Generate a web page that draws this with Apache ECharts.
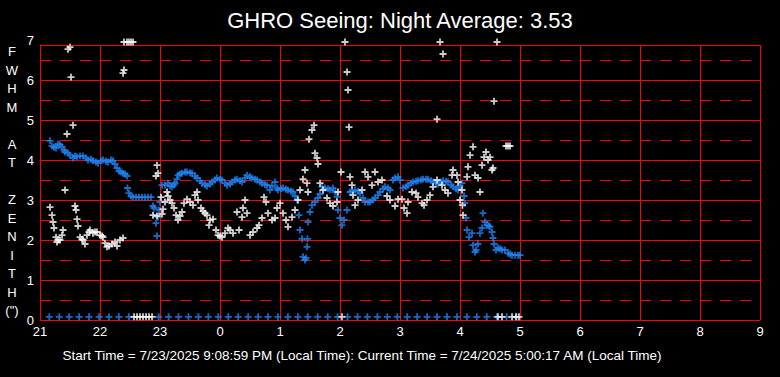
<!DOCTYPE html>
<html><head><meta charset="utf-8">
<script src="https://cdn.jsdelivr.net/npm/echarts@6/dist/echarts.min.js"></script>
<style>html,body{margin:0;padding:0;background:#000}#c{width:780px;height:377px}</style>
</head><body><div id="c"></div>
<script>
const titleText = 'GHRO Seeing: Night Average: 3.53';
const footerText = 'Start Time = 7/23/2025 9:08:59 PM (Local Time): Current Time = 7/24/2025 5:00:17 AM (Local Time)';
const yAxisTitleLetters = ['F','W','H','M','','A','T','','Z','E','N','I','T','H','(")'];
const hourTickLabels = ['21','22','23','0','1','2','3','4','5','6','7','8','9'];
const yTickLabels = ['0','1','2','3','4','5','6','7'];

// [hour since 21:00 continuing past midnight (24 = 0:00), FWHM]
const bluePoints = [
[21.167,4.48],[21.2,4.35],[21.233,4.32],[21.267,4.3],[21.3,4.4],[21.333,4.38],[21.367,4.33],[21.4,4.25],
[21.417,4.2],[21.467,4.17],[21.5,4.12],[21.55,4.05],[21.583,4.1],[21.617,4.08],[21.667,4.1],[21.717,4.1],
[21.767,4.05],[21.8,4.0],[21.85,4.02],[21.883,3.98],[21.933,3.95],[21.967,3.92],[22.017,3.98],[22.05,4.0],
[22.1,3.97],[22.133,3.95],[22.183,4.0],[22.217,3.98],[22.25,3.9],[22.283,3.8],[22.317,3.72],[22.35,3.7],
[22.383,3.67],[22.417,3.65],[22.45,3.6],[22.458,3.3],[22.483,3.17],[22.517,3.1],[22.55,3.07],[22.6,3.07],
[22.65,3.07],[22.7,3.07],[22.75,3.07],[22.8,3.07],[22.85,3.07],[22.883,2.85],[22.9,2.8],[22.933,2.42],
[22.95,2.1],[22.967,2.57],[22.983,2.75],[23.0,2.95],[23.033,3.37],[23.083,3.37],[23.133,3.42],[23.167,3.35],
[23.2,3.33],[23.233,3.38],[23.25,3.42],[23.283,3.52],[23.3,3.62],[23.333,3.65],[23.367,3.67],[23.417,3.7],
[23.45,3.7],[23.5,3.68],[23.533,3.67],[23.583,3.6],[23.617,3.55],[23.667,3.48],[23.7,3.42],[23.75,3.38],
[23.783,3.35],[23.833,3.4],[23.867,3.45],[23.917,3.5],[23.95,3.55],[24.0,3.52],[24.033,3.5],[24.083,3.42],
[24.117,3.37],[24.167,3.4],[24.2,3.45],[24.25,3.5],[24.283,3.52],[24.333,3.48],[24.367,3.45],[24.417,3.55],
[24.45,3.62],[24.5,3.58],[24.533,3.55],[24.583,3.52],[24.617,3.5],[24.667,3.45],[24.7,3.42],[24.75,3.38],
[24.783,3.37],[24.833,3.25],[24.867,3.35],[24.917,3.45],[24.95,3.3],[24.967,3.25],[25.017,3.28],[25.05,3.3],
[25.1,3.27],[25.133,3.25],[25.183,3.22],[25.217,3.2],[25.25,3.1],[25.283,3.0],[25.317,2.62],[25.333,2.25],
[25.367,2.03],[25.383,1.58],[25.417,1.5],[25.433,1.55],[25.45,1.83],[25.458,2.03],[25.467,2.45],[25.5,2.7],
[25.533,2.87],[25.583,2.95],[25.633,3.05],[25.667,3.15],[25.7,3.33],[25.75,3.3],[25.8,3.28],[25.833,3.25],
[25.883,3.3],[25.917,3.2],[25.95,3.08],[25.967,2.75],[26.0,2.55],[26.033,2.37],[26.067,2.5],[26.117,2.75],
[26.167,3.2],[26.2,3.22],[26.25,3.25],[26.3,3.22],[26.333,3.17],[26.383,3.05],[26.417,2.95],[26.467,2.95],
[26.5,2.95],[26.55,3.0],[26.583,3.05],[26.633,3.12],[26.667,3.2],[26.717,3.28],[26.75,3.33],[26.8,3.3],
[26.833,3.25],[26.883,3.5],[26.917,3.55],[26.967,3.58],[27.0,3.5],[27.05,3.3],[27.1,3.33],[27.133,3.37],
[27.183,3.42],[27.217,3.45],[27.267,3.47],[27.3,3.48],[27.35,3.5],[27.383,3.52],[27.433,3.52],[27.467,3.52],
[27.517,3.48],[27.55,3.45],[27.6,3.42],[27.633,3.4],[27.683,3.45],[27.717,3.48],[27.767,3.47],[27.8,3.45],
[27.85,3.38],[27.883,3.33],[27.933,3.28],[27.967,3.25],[28.0,3.35],[28.033,3.42],[28.067,3.1],[28.083,2.92],
[28.1,2.55],[28.117,2.25],[28.15,2.07],[28.2,2.17],[28.217,1.87],[28.25,1.7],[28.267,1.75],[28.3,1.9],
[28.333,2.17],[28.367,2.3],[28.383,2.67],[28.417,2.45],[28.45,2.37],[28.483,2.35],[28.5,2.33],[28.533,2.2],
[28.55,2.05],[28.567,1.9],[28.6,1.75],[28.633,1.8],[28.667,1.78],[28.7,1.75],[28.75,1.75],[28.8,1.67],
[28.833,1.65],[28.867,1.62],[28.917,1.62],[28.967,1.62],[29.0,1.62]
];

const blueBaseline = [
[21.155,0.08],[21.321,0.08],[21.486,0.08],[21.652,0.08],[21.818,0.08],[21.984,0.08],[22.149,0.08],[22.315,0.08],
[22.481,0.08],[22.978,0.08],[23.143,0.08],[23.309,0.08],[23.475,0.08],[23.641,0.08],[23.806,0.08],[23.972,0.08],
[24.138,0.08],[24.303,0.08],[24.469,0.08],[24.635,0.08],[24.8,0.08],[24.966,0.08],[25.132,0.08],[25.298,0.08],
[25.463,0.08],[25.629,0.08],[25.795,0.08],[25.96,0.08],[26.126,0.08],[26.292,0.08],[26.457,0.08],[26.623,0.08],
[26.789,0.08],[26.955,0.08],[27.12,0.08],[27.286,0.08],[27.452,0.08],[27.617,0.08],[27.783,0.08],[27.949,0.08],
[28.114,0.08],[28.28,0.08],[28.446,0.08],[28.612,0.08],[28.777,0.08],[28.943,0.08]
];

const whitePoints = [
[21.167,2.82],[21.2,2.62],[21.217,2.45],[21.233,2.3],[21.267,2.07],[21.283,1.95],[21.3,2.0],[21.333,2.0],
[21.367,2.12],[21.383,2.25],[21.417,3.25],[21.45,4.65],[21.467,6.77],[21.5,6.82],[21.517,6.07],[21.55,4.87],
[21.583,2.85],[21.6,2.75],[21.617,2.52],[21.633,2.35],[21.667,2.07],[21.7,2.02],[21.717,2.0],[21.75,1.9],
[21.783,2.12],[21.817,2.2],[21.833,2.25],[21.883,2.17],[21.917,2.2],[21.95,2.2],[22.0,2.12],[22.033,2.1],
[22.05,2.07],[22.083,1.92],[22.117,1.83],[22.15,1.85],[22.2,1.9],[22.25,1.95],[22.283,1.85],[22.333,2.0],
[22.383,2.05],[22.383,6.17],[22.4,6.25],[22.4,6.95],[22.45,6.95],[22.483,6.95],[22.517,6.95],[22.55,6.95],
[22.567,0.08],[22.617,0.08],[22.667,0.08],[22.717,0.08],[22.767,0.08],[22.817,0.08],[22.867,0.08],
[22.883,2.62],[22.933,3.6],[22.95,3.87],[22.95,2.6],[22.967,3.67],[23.017,3.07],[23.033,2.65],[23.05,2.77],
[23.083,2.95],[23.117,3.2],[23.133,3.1],[23.167,3.0],[23.2,2.92],[23.233,2.8],[23.267,2.62],[23.3,2.5],
[23.333,2.6],[23.367,2.7],[23.4,2.92],[23.45,3.02],[23.5,2.95],[23.55,2.87],[23.583,3.12],[23.617,3.2],
[23.633,3.0],[23.683,2.8],[23.717,2.72],[23.75,2.67],[23.783,2.62],[23.817,2.37],[23.833,2.5],[23.883,2.52],
[23.933,2.25],[23.967,2.12],[24.0,2.1],[24.033,2.07],[24.083,2.17],[24.133,2.3],[24.167,2.25],[24.217,2.17],
[24.283,2.7],[24.317,2.25],[24.367,2.57],[24.383,2.8],[24.417,3.0],[24.45,2.67],[24.5,2.12],[24.55,2.2],
[24.617,2.3],[24.65,2.37],[24.7,2.55],[24.733,3.07],[24.767,2.95],[24.8,2.67],[24.867,2.5],[24.917,2.55],
[24.95,2.8],[25.0,2.92],[25.05,2.67],[25.1,2.5],[25.133,2.33],[25.2,2.57],[25.25,2.75],[25.3,3.0],
[25.333,3.25],[25.383,3.52],[25.417,3.75],[25.45,3.42],[25.467,3.2],[25.483,4.52],[25.533,4.75],[25.567,4.87],
[25.583,4.17],[25.617,4.05],[25.633,3.9],[25.667,3.42],[25.717,3.25],[25.783,3.05],[25.833,2.92],[25.883,2.85],
[25.95,2.95],[25.967,3.2],[26.017,3.7],[26.033,0.08],[26.083,6.95],[26.117,6.2],[26.133,5.75],[26.15,4.82],
[26.167,3.58],[26.2,3.37],[26.217,3.12],[26.25,2.87],[26.3,3.0],[26.367,3.25],[26.417,3.7],[26.467,3.58],
[26.533,3.37],[26.583,3.7],[26.633,3.45],[26.7,3.5],[26.783,3.1],[26.833,3.0],[26.917,2.85],[26.967,3.02],
[27.033,3.02],[27.067,2.8],[27.117,2.67],[27.133,2.95],[27.2,3.2],[27.267,3.17],[27.3,3.07],[27.367,2.92],
[27.4,2.87],[27.45,3.0],[27.5,3.12],[27.55,3.33],[27.617,3.5],[27.617,5.02],[27.667,6.95],[27.717,6.65],
[27.7,3.37],[27.75,3.25],[27.8,3.17],[27.867,3.62],[27.883,3.75],[27.95,3.62],[27.967,3.45],[28.0,3.0],
[28.033,3.25],[28.04,2.87],[28.05,2.62],[28.117,3.58],[28.133,3.83],[28.167,4.12],[28.217,4.33],[28.25,3.62],
[28.3,3.55],[28.333,3.2],[28.367,3.87],[28.4,4.07],[28.433,4.2],[28.467,4.0],[28.5,4.07],[28.533,3.75],
[28.55,3.8],[28.567,5.47],[28.617,6.95],[28.633,0.08],[28.7,0.08],[28.767,4.35],[28.8,4.35],[28.833,4.35],
[28.867,0.08],[28.933,0.08],[28.983,0.08]
];

const RED = '#ff0000';
const BLUE = '#1e84f5';
const FONT = "'Liberation Sans', Arial, sans-serif";
const PLUS = 'path://M2.6,0H4.4V7H2.6Z M0,2.6H7V4.4H0Z';

const chart = echarts.init(document.getElementById('c'), null, {renderer: 'svg', width: 780, height: 377});
chart.setOption({
  backgroundColor: '#000',
  animation: false,
  grid: [
    {left: 40, right: 20, top: 45, bottom: 57},
    {left: 40, right: 20, top: 40, bottom: 57}
  ],
  xAxis: [
    {gridIndex: 0, type: 'value', min: 21, max: 33, interval: 1,
     axisLine: {show: true, lineStyle: {color: RED, width: 1}},
     axisTick: {show: false},
     axisLabel: {color: '#fff', fontSize: 13, fontFamily: FONT, margin: 5,
                 formatter: v => hourTickLabels[Math.round(v - 21)]},
     splitLine: {show: true, lineStyle: {color: RED, width: 1}}},
    {gridIndex: 1, type: 'value', min: 21, max: 33, show: false}
  ],
  yAxis: [
    {gridIndex: 0, type: 'value', min: 0, max: 6.875, interval: 1,
     axisLine: {show: true, lineStyle: {color: RED, width: 1}},
     axisTick: {show: false}, axisLabel: {show: false},
     splitLine: {show: true, lineStyle: {color: RED, width: 1}}},
    {gridIndex: 1, type: 'value', min: 0, max: 7, interval: 1,
     axisLine: {show: false}, axisTick: {show: false},
     splitLine: {show: false},
     axisLabel: {color: '#fff', fontSize: 13, fontFamily: FONT, margin: 6,
                 formatter: v => yTickLabels[Math.round(v)]},
     minorTick: {show: false, splitNumber: 2},
     minorSplitLine: {show: true, lineStyle: {color: RED, width: 1, type: [11, 9]}}}
  ],
  graphic: [
    {type: 'text', x: 400, y: 20, silent: true,
     style: {text: titleText, fill: '#fff', font: '22px ' + FONT, textAlign: 'center', textVerticalAlign: 'middle'}},
    {type: 'text', x: 362, y: 355, silent: true,
     style: {text: footerText, fill: '#fff', font: '13.5px ' + FONT, textAlign: 'center', textVerticalAlign: 'middle'}},
    {type: 'text', x: 12, y: 181, silent: true,
     style: {text: yAxisTitleLetters.join('\n'), fill: '#fff', font: '13px ' + FONT, lineHeight: 18.5,
             textAlign: 'center', textVerticalAlign: 'middle'}}
  ],
  series: [
    {type: 'scatter', name: 'baseline', xAxisIndex: 0, yAxisIndex: 0, data: blueBaseline, clip: false,
     symbol: PLUS, symbolSize: 7, itemStyle: {color: BLUE}, silent: true},
    {type: 'scatter', name: 'blue', xAxisIndex: 0, yAxisIndex: 0, data: bluePoints, clip: false,
     symbol: PLUS, symbolSize: 7, itemStyle: {color: BLUE}, silent: true},
    {type: 'scatter', name: 'white', xAxisIndex: 0, yAxisIndex: 0, data: whitePoints, clip: false,
     symbol: PLUS, symbolSize: 7, itemStyle: {color: '#fff'}, silent: true}
  ]
});
</script>
</body></html>
